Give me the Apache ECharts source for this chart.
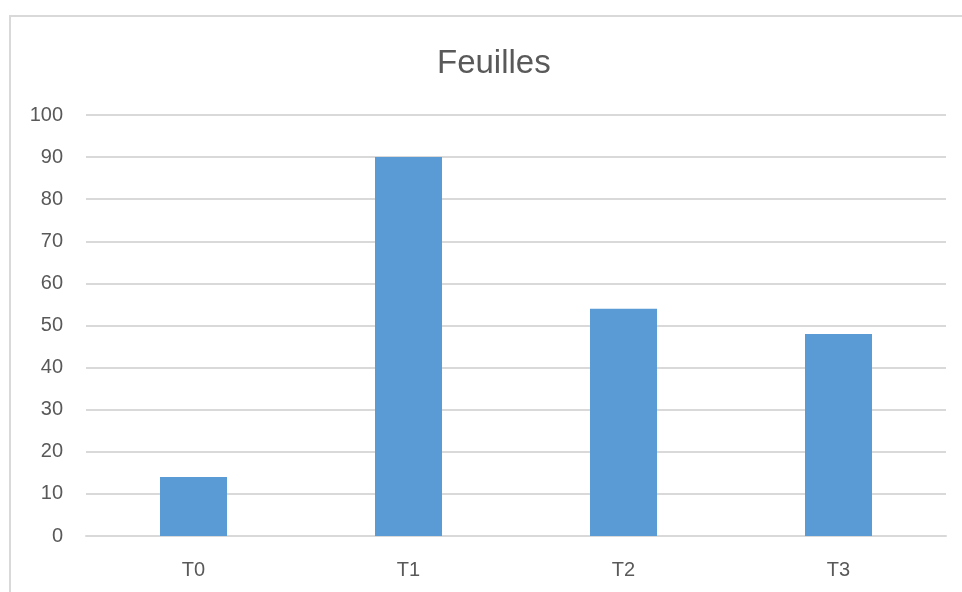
<!DOCTYPE html>
<html>
<head>
<meta charset="utf-8">
<style>
  html, body { margin: 0; padding: 0; background: #ffffff; }
  #chart { width: 962px; height: 592px; }
</style>
<script src="https://cdn.jsdelivr.net/npm/echarts@6/dist/echarts.min.js"></script>
</head>
<body>
<div id="chart"></div>
<script>
// Chart data
const categories = ['T0', 'T1', 'T2', 'T3'];
const values = [14, 90, 54, 48];
const yTicks = { min: 0, max: 100, interval: 10 };

const textColor = '#595959';
const gridColor = '#d9d9d9';
const fontFamily = '"Liberation Sans", "DejaVu Sans", sans-serif';

const chart = echarts.init(document.getElementById('chart'), null, { renderer: 'canvas' });
chart.setOption({
  backgroundColor: '#ffffff',
  animation: false,
  title: {
    text: 'Feuilles',
    left: 432,
    top: 42,
    textStyle: { color: textColor, fontSize: 33, fontWeight: 'normal', fontFamily: fontFamily }
  },
  graphic: [{
    type: 'rect',
    shape: { x: 10, y: 16, width: 1000, height: 1000 },
    style: { fill: 'none', stroke: gridColor, lineWidth: 2 },
    silent: true
  }],
  grid: { left: 86, right: 16, top: 115, bottom: 56, containLabel: false },
  xAxis: {
    type: 'category',
    data: categories,
    axisLine: { show: true, lineStyle: { color: gridColor, width: 2 } },
    axisTick: { show: false },
    axisLabel: { color: textColor, fontSize: 20, fontFamily: fontFamily, margin: 24 }
  },
  yAxis: {
    type: 'value',
    min: yTicks.min,
    max: yTicks.max,
    interval: yTicks.interval,
    axisLine: { show: false },
    axisTick: { show: false },
    axisLabel: { color: textColor, fontSize: 20, fontFamily: fontFamily, margin: 23 },
    splitLine: { lineStyle: { color: gridColor, width: 2 } }
  },
  series: [{
    type: 'bar',
    data: values,
    barWidth: 67,
    itemStyle: { color: '#5b9bd5' }
  }]
});
</script>
</body>
</html>
